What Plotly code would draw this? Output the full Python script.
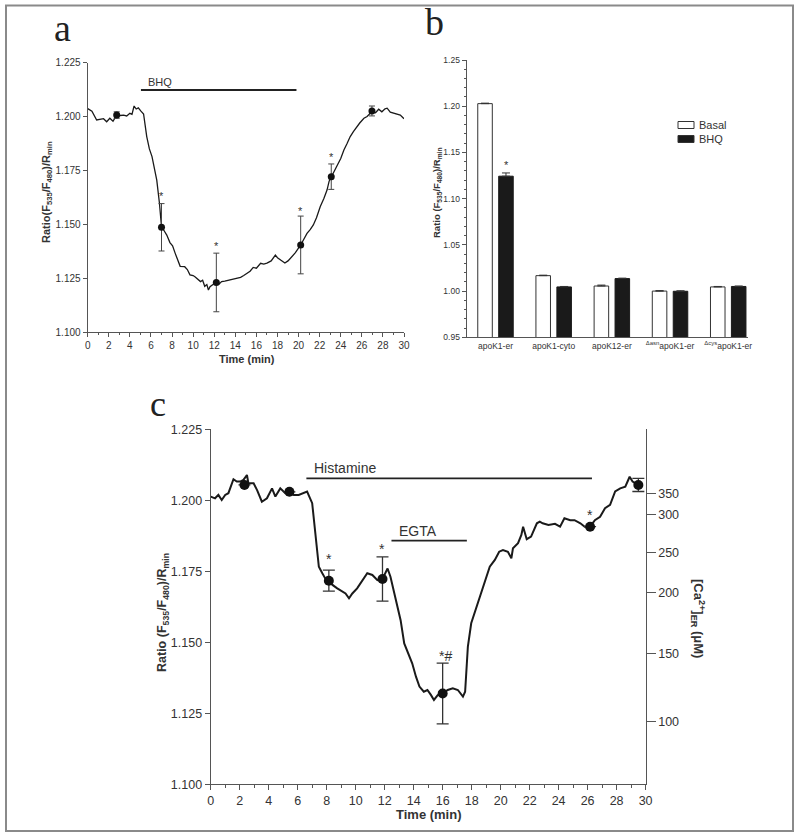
import plotly.graph_objects as go

# ---------------- data: panel a ----------------
a_time = [0, 0.4, 0.85, 1.2, 1.5, 1.8, 2.1, 2.4, 2.75, 3.1,
          3.4, 3.7, 4.0, 4.2, 4.4, 4.6, 4.8, 5.05, 5.3, 5.6,
          5.85, 6.1, 6.35, 6.55, 6.8, 7.0, 7.25, 7.5, 7.8, 8.05,
          8.3, 8.55, 8.77, 9.2, 9.45, 9.7, 10.0, 10.2, 10.45, 10.7,
          10.9, 11.1, 11.3, 11.45, 11.6, 11.8, 12.0, 12.2, 12.45, 12.7,
          13.0, 13.5, 14.0, 14.5, 14.8, 15.1, 15.4, 15.7, 16.0, 16.4,
          16.7, 17.0, 17.4, 17.8, 18.0, 18.3, 18.7, 19.0, 19.2, 19.5,
          19.7, 20.2, 20.5, 20.8, 21.1, 21.4, 21.7, 22.06, 22.4, 22.7,
          22.9, 23.1, 23.4, 23.6, 24.0, 24.3, 24.6, 24.9, 25.2, 25.5,
          25.8, 26.2, 26.5, 26.96, 27.3, 27.6, 27.9, 28.2, 28.4, 28.7,
          29.0, 29.3, 29.65, 30]
a_ratio = [1.2037, 1.2025, 1.1984, 1.1988, 1.1990, 1.1976, 1.1992, 1.1978, 1.2007, 1.2005,
           1.2007, 1.2003, 1.2015, 1.2010, 1.2049, 1.2035, 1.2040, 1.2025, 1.2012, 1.1907,
           1.1850, 1.1814, 1.1760, 1.1705, 1.1600, 1.1490, 1.1470, 1.1450, 1.1415, 1.1400,
           1.1365, 1.1330, 1.1305, 1.1303, 1.1290, 1.1265, 1.1262, 1.1255, 1.1245, 1.1234,
           1.1240, 1.1212, 1.1220, 1.1195, 1.1210, 1.1218, 1.1225, 1.1232, 1.1222, 1.1234,
           1.1236, 1.1242, 1.1246, 1.1254, 1.1262, 1.1273, 1.1282, 1.1300, 1.1296, 1.1319,
           1.1315, 1.1320, 1.1330, 1.1357, 1.1345, 1.1334, 1.1320, 1.1330, 1.1342, 1.1355,
           1.1368, 1.1404, 1.1430, 1.1458, 1.1475, 1.1497, 1.1530, 1.1582, 1.1620, 1.1659,
           1.1700, 1.1721, 1.1745, 1.1767, 1.1805, 1.1845, 1.1875, 1.1907, 1.1930, 1.1953,
           1.1970, 1.1992, 1.2000, 1.2023, 1.2018, 1.2034, 1.2022, 1.2036, 1.2039, 1.2020,
           1.2015, 1.2010, 1.2007, 1.1990]
a_mark_time = [2.75, 7.0, 12.2, 20.2, 23.1, 26.96]
a_mark_ratio = [1.2007, 1.1486, 1.1230, 1.1404, 1.1721, 1.2026]
a_mark_err = [0.0015, 0.0110, 0.0136, 0.0134, 0.0059, 0.0023]
a_star_time = [7.0, 12.2, 20.2, 23.1]
a_star_ratio = [1.1644, 1.1415, 1.1574, 1.1826]
a_treat = ["BHQ", 5.05, 19.8, 1.2123]

# ---------------- data: panel b ----------------
b_categories = ["apoK1-er", "apoK1-cyto", "apoK12-er",
                "<sup>Δasn</sup>apoK1-er", "<sup>Δcys</sup>apoK1-er"]
b_series = ["Basal", "BHQ"]
b_basal = [1.2028, 1.0167, 1.0055, 1.0000, 1.0045]
b_basal_err = [0.0005, 0.0005, 0.0010, 0.0005, 0.0005]
b_bhq = [1.1243, 1.0045, 1.0135, 0.9998, 1.0050]
b_bhq_err = [0.0035, 0.0005, 0.0005, 0.0005, 0.0005]
b_star_ratio = 1.1393

# ---------------- data: panel c ----------------
c_time = [0, 0.3, 0.53, 0.76, 1.0, 1.22, 1.57, 1.8, 2.03, 2.26,
          2.5, 2.6, 2.96, 3.2, 3.53, 3.88, 4.23, 4.46, 4.8, 5.15,
          5.43, 5.73, 6.07, 6.4, 6.65, 7.0, 7.23, 7.46, 7.7, 7.9,
          8.15, 8.4, 8.73, 9.08, 9.3, 9.54, 9.77, 10.1, 10.46, 10.8,
          11.15, 11.5, 11.85, 12.2, 12.4, 12.65, 12.9, 13.1, 13.35, 13.7,
          13.9, 14.16, 14.4, 14.7, 14.95, 15.2, 15.4, 15.66, 16.0, 16.35,
          16.7, 17.05, 17.4, 17.55, 17.74, 17.97, 18.2, 18.55, 18.9, 19.25,
          19.6, 19.9, 20.16, 20.5, 20.74, 20.85, 21.2, 21.43, 21.55, 21.8,
          22.1, 22.5, 22.7, 22.9, 23.3, 23.75, 24.1, 24.4, 24.8, 25.1,
          25.5, 25.8, 26.17, 26.5, 26.86, 27.2, 27.55, 27.9, 28.25, 28.6,
          28.9, 29.1, 29.5, 29.75]
c_ratio = [1.2013, 1.2007, 1.2019, 1.2001, 1.2019, 1.2025, 1.2074, 1.2066, 1.2066, 1.2072,
           1.2089, 1.2060, 1.2060, 1.2036, 1.1995, 1.2007, 1.2042, 1.2013, 1.2042, 1.2025,
           1.2033, 1.2019, 1.2019, 1.2025, 1.2031, 1.1990, 1.1884, 1.1766, 1.1743, 1.1725,
           1.1717, 1.1702, 1.1690, 1.1678, 1.1672, 1.1655, 1.1672, 1.1690, 1.1719, 1.1743,
           1.1737, 1.1719, 1.1723, 1.1760, 1.1731, 1.1672, 1.1614, 1.1578, 1.1496, 1.1449,
           1.1426, 1.1379, 1.1344, 1.1326, 1.1332, 1.1314, 1.1297, 1.1314, 1.1320, 1.1332,
           1.1338, 1.1332, 1.1309, 1.1326, 1.1485, 1.1567, 1.1602, 1.1661, 1.1708, 1.1766,
           1.1790, 1.1819, 1.1825, 1.1819, 1.1796, 1.1831, 1.1849, 1.1878, 1.1907, 1.1863,
           1.1872, 1.1919, 1.1925, 1.1919, 1.1913, 1.1917, 1.1907, 1.1937, 1.1930, 1.1930,
           1.1919, 1.1907, 1.1907, 1.1930, 1.1942, 1.1972, 1.1984, 1.2031, 1.2042, 1.2048,
           1.2083, 1.2066, 1.2054, 1.2050]
c_mark_time = [2.33, 5.43, 8.15, 11.85, 16.0, 26.17, 29.5]
c_mark_ratio = [1.2054, 1.2030, 1.1717, 1.1723, 1.1320, 1.1907, 1.2054]
c_mark_err = [None, None, 0.0037, 0.0078, 0.0107, None, 0.0023]
c_star_time = [8.15, 11.85, 16.0, 26.17]
c_star_ratio = [1.1807, 1.1843, 1.1467, 1.1962]
c_star_text = ["*", "*", "*#", "*"]
c_treat_hist = ["Histamine", 6.6, 26.3, 1.2077]
c_treat_egta = ["EGTA", 12.47, 17.67, 1.1858]
ca_tick_ratio = [1.2025, 1.1949, 1.1815, 1.1676, 1.1459, 1.1220]
ca_tick_labels = ["350", "300", "250", "200", "150", "100"]

# ---------------- figure ----------------
W, H = 800, 837
def px(x):
    return x / W
def py(y):
    return 1 - y / H

AX = "#555555"
TXT = "#333333"
LINE = "#1a1a1a"
FONT = "Liberation Sans, Arial, sans-serif"

fig = go.Figure()

# panel a
fig.add_trace(go.Scatter(x=a_time, y=a_ratio, mode="lines", xaxis="x", yaxis="y",
                         line=dict(color=LINE, width=1.3), showlegend=False, hoverinfo="skip"))
fig.add_trace(go.Scatter(x=a_mark_time, y=a_mark_ratio, mode="markers", xaxis="x", yaxis="y",
                         marker=dict(color="#111", size=7),
                         error_y=dict(type="data", array=a_mark_err, color="#444", thickness=1, width=3),
                         showlegend=False))

# panel b
fig.add_trace(go.Bar(x=b_categories, y=b_basal, name=b_series[0], xaxis="x2", yaxis="y2",
                     marker=dict(color="white", line=dict(color="#333", width=1)),
                     width=0.25, offset=-0.305, showlegend=False,
                     error_y=dict(type="data", array=b_basal_err, arrayminus=[0]*5,
                                  color="#333", thickness=1, width=4)))
fig.add_trace(go.Bar(x=b_categories, y=b_bhq, name=b_series[1], xaxis="x2", yaxis="y2",
                     marker=dict(color="#1a1a1a", line=dict(color="#1a1a1a", width=1)),
                     width=0.25, offset=0.055, showlegend=False,
                     error_y=dict(type="data", array=b_bhq_err, arrayminus=[0]*5,
                                  color="#333", thickness=1, width=4)))

# panel c
fig.add_trace(go.Scatter(x=c_time, y=c_ratio, mode="lines", xaxis="x3", yaxis="y3",
                         line=dict(color=LINE, width=2), showlegend=False, hoverinfo="skip"))
fig.add_trace(go.Scatter(x=c_mark_time, y=c_mark_ratio, mode="markers", xaxis="x3", yaxis="y3",
                         marker=dict(color="#111", size=10),
                         error_y=dict(type="data", array=c_mark_err, color="#333", thickness=1.3, width=6),
                         showlegend=False))
# invisible trace to activate right axis
fig.add_trace(go.Scatter(x=[None], y=[None], xaxis="x3", yaxis="y4", showlegend=False))

common_ax = dict(showline=True, linecolor=AX, linewidth=1.2, ticks="outside", tickcolor=AX,
                 showgrid=False, zeroline=False, fixedrange=True, automargin=False)

fig.update_layout(
    width=W, height=H, margin=dict(l=0, r=0, t=0, b=0, autoexpand=False),
    paper_bgcolor="white", plot_bgcolor="rgba(0,0,0,0)",
    font=dict(family=FONT, color=TXT),
    barmode="overlay", showlegend=False,
    xaxis=dict(domain=[px(87.7), px(404)], anchor="y", range=[0, 30], dtick=2,
               ticklen=4, tickwidth=1, tickfont=dict(size=10),
               minor=dict(dtick=1, ticks="outside", ticklen=2, tickcolor=AX), **common_ax),
    yaxis=dict(domain=[py(332), py(62.7)], anchor="x", range=[1.100, 1.225], dtick=0.025,
               tickformat=".3f", ticklen=4, tickwidth=1, tickfont=dict(size=10), **common_ax),
    xaxis2=dict(domain=[px(466.7), px(748)], anchor="y2", type="category", range=[-0.495, 4.34],
                tickfont=dict(size=8.5), showline=True, linecolor=AX, linewidth=1.2, ticks="",
                showgrid=False, zeroline=False, fixedrange=True, automargin=False),
    yaxis2=dict(domain=[py(337.3), py(60)], anchor="x2", range=[0.95, 1.25], dtick=0.05,
                tickformat=".2f", ticklen=4, tickwidth=1, tickfont=dict(size=8.5),
                minor=dict(dtick=0.01, ticks="outside", ticklen=2, tickcolor=AX), **common_ax),
    xaxis3=dict(domain=[px(210.7), px(645.6)], anchor="y3", range=[0, 30], dtick=2,
                ticklen=5, tickwidth=1, tickfont=dict(size=12.5),
                minor=dict(dtick=1, ticks="outside", ticklen=3, tickcolor=AX), **common_ax),
    yaxis3=dict(domain=[py(784.3), py(429.3)], anchor="x3", range=[1.100, 1.225], dtick=0.025,
                tickformat=".3f", ticklen=5, tickwidth=1, tickfont=dict(size=12.5), **common_ax),
    yaxis4=dict(overlaying="y3", anchor="x3", side="right", range=[1.100, 1.225],
                tickvals=ca_tick_ratio, ticktext=ca_tick_labels, ticklen=9, tickwidth=1,
                tickfont=dict(size=12.5), **common_ax),
)

ann = []
shapes = []

def paper_text(text, x, y, size, angle=0, family=None, color=TXT, xanchor="center"):
    f = dict(size=size, color=color)
    if family:
        f["family"] = family
    ann.append(dict(text=text, x=px(x), y=py(y), xref="paper", yref="paper", textangle=angle,
                    xanchor=xanchor, yanchor="middle", showarrow=False, font=f))

# panel letters
SERIF = "Liberation Serif, Times New Roman, serif"
paper_text("a", 62, 28, 38, family=SERIF, color="#222")
paper_text("b", 435, 22, 38, family=SERIF, color="#222")
paper_text("c", 158, 404, 36, family=SERIF, color="#222")

# axis titles
ratio_a = "<b>Ratio(F<sub>535</sub>/F<sub>480</sub>)/R<sub>min</sub></b>"
ratio_bc = "<b>Ratio (F<sub>535</sub>/F<sub>480</sub>)/R<sub>min</sub></b>"
paper_text(ratio_a, 47, 192, 11, angle=-90)
paper_text(ratio_bc, 437, 193, 9.5, angle=-90)
paper_text(ratio_bc, 163, 613, 12.5, angle=-90)
paper_text("<b>[Ca<sup>2+</sup>]<sub>ER</sub> (μM)</b>", 698, 618, 13, angle=90)
paper_text("<b>Time (min)</b>", 247, 359, 11)
paper_text("<b>Time (min)</b>", 429, 814, 13)

# legend of panel b (swatches + labels)
for i, (name, fill) in enumerate(zip(b_series, ["white", "#1a1a1a"])):
    yc = 125 + 14 * i
    shapes.append(dict(type="rect", xref="paper", yref="paper", x0=px(678), x1=px(694),
                       y0=py(yc + 3.5), y1=py(yc - 3.5), fillcolor=fill,
                       line=dict(color="#333", width=1)))
    paper_text(name, 697, yc, 11, xanchor="left")

# stars
for t, r in zip(a_star_time, a_star_ratio):
    ann.append(dict(text="*", x=t, y=r, xref="x", yref="y", showarrow=False,
                    yshift=-3, font=dict(size=11, color=TXT)))
ann.append(dict(text="*", x=b_categories[0], y=b_star_ratio, xref="x2", yref="y2", xshift=11,
                yshift=-3, showarrow=False, font=dict(size=11, color=TXT)))
for t, r, s in zip(c_star_time, c_star_ratio, c_star_text):
    ann.append(dict(text=s, x=t, y=r, xref="x3", yref="y3", showarrow=False,
                    yshift=-4, xshift=(3 if s == "*#" else 0), font=dict(size=14, color=TXT)))

# treatment bars
for (label, t0, t1, r), xr, yr, fs, lw in [(a_treat, "x", "y", 11, 2),
                                          (c_treat_hist, "x3", "y3", 14, 1.8),
                                          (c_treat_egta, "x3", "y3", 14, 1.8)]:
    shapes.append(dict(type="line", x0=t0, x1=t1, y0=r, y1=r, xref=xr, yref=yr,
                       line=dict(color="#222", width=lw)))
    ann.append(dict(text=label, x=t0, y=r, xref=xr, yref=yr, xanchor="left", yanchor="bottom",
                    xshift=(5 if xr == "x" else 6), yshift=0, showarrow=False,
                    font=dict(size=fs, color=TXT)))

# outer frame
shapes.append(dict(type="rect", xref="paper", yref="paper", x0=px(6), x1=px(793),
                   y0=py(831), y1=py(5.5), line=dict(color="#8a8a8a", width=2)))

fig.update_layout(annotations=ann, shapes=shapes)
fig.write_html("out.html", config={"displayModeBar": False},
               post_script="document.body.style.margin='0px';")
